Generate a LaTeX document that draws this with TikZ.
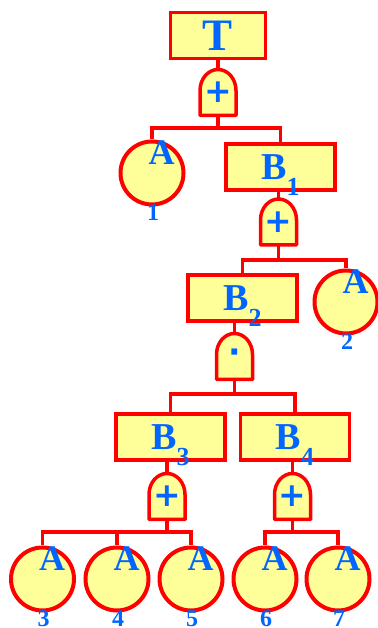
\documentclass[tikz,border=0pt]{standalone}
\usepackage{fontspec}
\setmainfont{Liberation Serif}
\newfontfamily\gatefont{DejaVu Sans}

\definecolor{ftred}{RGB}{255,0,0}
\definecolor{ftfill}{RGB}{255,255,153}
\definecolor{ftblue}{RGB}{0,102,255}

\newcommand{\evsub}[1]{\smash{\raisebox{-16pt}{\fontsize{26}{26}\selectfont #1}}}

\tikzset{
    event/.style={rectangle, draw=ftred, fill=ftfill, line width=3.5pt, minimum width=109pt,
        minimum height=46pt, inner sep=0pt, text=ftblue, font=\bfseries\fontsize{38}{38}\selectfont},
    basic/.style={circle, draw=ftred, fill=ftfill, line width=4pt, minimum size=63pt, inner sep=0pt},
    gatebox/.style={minimum width=36pt, minimum height=46pt, inner sep=0pt, text=ftblue,
        font=\gatefont\bfseries\fontsize{33}{33}\selectfont},
    gateline/.style={draw=ftred, fill=ftfill, line width=3.5pt, line join=round},
    wire/.style={draw=ftred, line width=3.5pt},
    letter/.style={text=ftblue, font=\bfseries\fontsize{36}{36}\selectfont, inner sep=0pt},
    idx/.style={text=ftblue, font=\bfseries\fontsize{24}{24}\selectfont, inner sep=0pt},
}

\begin{document}
\begin{tikzpicture}[x=1pt, y=1pt]

    \useasboundingbox (0,0) rectangle (377,628);

    % Events
    \node[event, minimum width=95pt, font=\bfseries\fontsize{45}{45}\selectfont] (t) at (218,592.5) {T};
    \node[event] (b1) at (280.5,461) {B\evsub{1}};
    \node[event] (b2) at (242.5,330) {B\evsub{2}};
    \node[event] (b3) at (170.5,191) {B\evsub{3}};
    \node[event] (b4) at (295,191) {B\evsub{4}};

    % Gates (shape first, then the node on top)
    \foreach \n/\x/\y/\s in {g1/218/535.5/+, g2/278.5/406/+, g3/234.5/271.5/\textperiodcentered,
                             g4/167/131.5/+, g5/292.5/131.5/+} {
        \draw[gateline] (\x-18,\y-23) -- ++(0,25)
            arc[start angle=180, end angle=0, x radius=18pt, y radius=21pt] -- ++(0,-25) -- cycle;
        \node[gatebox] (\n) at (\x,\y) {\raisebox{-4pt}{\s}};
    }

    % Basic events
    \foreach \n/\x/\y/\k in {a1/152/455/1, a2/346/326/2, a3/42.5/49/3, a4/117/49/4,
                             a5/191/49/5, a6/265/49/6, a7/338/49/7} {
        \node[basic] (\n) at (\x,\y) {};
        \node[letter] (\n-l) at ([shift={(9.5,20)}]\n.center) {A};
        \node[idx] (\n-k) at ([shift={(1,-39.5)}]\n.center) {\k};
    }

    % Junctions below the gates
    \coordinate (j1) at (218,500);
    \coordinate (j2) at (278.5,368);
    \coordinate (j3) at (234.5,234);
    \coordinate (j4) at (167,96);
    \coordinate (j5) at (292.5,96);

    % Connectors
    \draw[wire] (t) -- (g1);
    \draw[wire] (g1) -- (j1) -| (a1);
    \draw[wire] (j1) -| (b1);

    \draw[wire] (b1.south -| g2) -- (g2);
    \draw[wire] (g2) -- (j2) -| (b2);
    \draw[wire] (j2) -| (a2);

    \draw[wire] (b2.south -| g3) -- (g3);
    \draw[wire] (g3) -- (j3) -| (b3);
    \draw[wire] (j3) -| (b4);

    \draw[wire] (b3.south -| g4) -- (g4);
    \draw[wire] (g4) -- (j4) -| (a3);
    \draw[wire] (j4) -| (a4);
    \draw[wire] (j4) -| (a5);

    \draw[wire] (b4.south -| g5) -- (g5);
    \draw[wire] (g5) -- (j5) -| (a6);
    \draw[wire] (j5) -| (a7);

\end{tikzpicture}
\end{document}
